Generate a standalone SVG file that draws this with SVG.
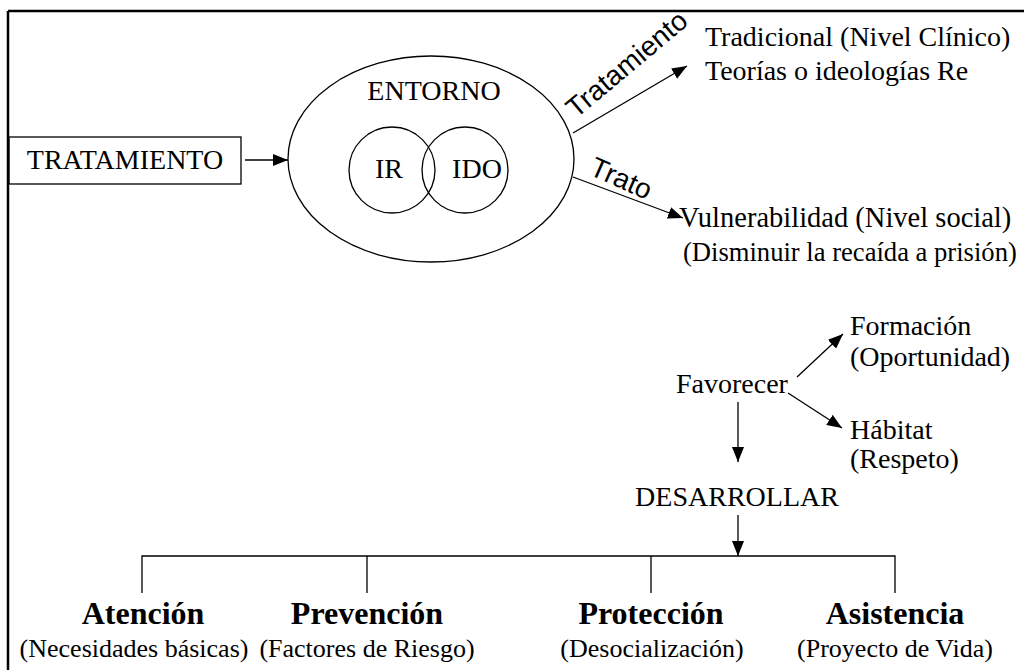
<svg xmlns="http://www.w3.org/2000/svg" width="1024" height="670" viewBox="0 0 1024 670">
<defs>
<marker id="ah" markerUnits="userSpaceOnUse" markerWidth="16" markerHeight="12" refX="15" refY="6" orient="auto">
<path d="M0,0 L15,6 L0,12 Z" fill="#000"/>
</marker>
<style>
.s{font-family:"Liberation Serif","Times New Roman",serif;font-size:28px;fill:#000}
.m{text-anchor:middle}
.b{font-family:"Liberation Serif","Times New Roman",serif;font-size:32px;font-weight:bold;text-anchor:middle;fill:#000}
.sub{font-family:"Liberation Serif","Times New Roman",serif;font-size:26px;text-anchor:middle;fill:#000}
.lab{font-family:"Liberation Sans",Arial,sans-serif;font-size:28px;fill:#000}
.ln{stroke:#000;stroke-width:1.3;fill:none}
.arr{stroke:#000;stroke-width:1.3;fill:none;marker-end:url(#ah)}
</style>
</defs>
<rect width="1024" height="670" fill="#fff"/>
<g id="frame">
<line x1="8" y1="11" x2="1024" y2="11" stroke="#000" stroke-width="2.5"/>
<line x1="8" y1="11" x2="8" y2="670" stroke="#000" stroke-width="2.5"/>
</g>
<g id="tratamiento">
<rect x="9" y="137" width="232" height="47" fill="none" stroke="#000" stroke-width="1.3"/>
<text class="s m" x="125" y="169">TRATAMIENTO</text>
</g>
<g id="entorno">
<ellipse cx="431" cy="159" rx="143" ry="103" class="ln"/>
<text class="s m" x="434" y="100">ENTORNO</text>
</g>
<g id="ir">
<circle cx="392" cy="170" r="43" class="ln"/>
<text class="s m" x="389" y="178">IR</text>
</g>
<g id="ido">
<circle cx="465" cy="170" r="43" class="ln"/>
<text class="s m" x="477" y="178">IDO</text>
</g>
<g id="tradicional">
<text class="s" x="705" y="46">Tradicional (Nivel Clínico)</text>
<text class="s" x="705" y="80">Teorías o ideologías Re</text>
</g>
<g id="vulnerabilidad">
<text class="s" x="679" y="227" style="font-size:28.5px">Vulnerabilidad (Nivel social)</text>
<text class="s" x="683" y="261" style="font-size:26.6px">(Disminuir la recaída a prisión)</text>
</g>
<g id="favorecer">
<text class="s" x="676" y="393">Favorecer</text>
</g>
<g id="formacion">
<text class="s" x="850" y="335">Formación</text>
<text class="s" x="850" y="366">(Oportunidad)</text>
</g>
<g id="habitat">
<text class="s" x="850" y="439">Hábitat</text>
<text class="s" x="850" y="468">(Respeto)</text>
</g>
<g id="desarrollar">
<text class="s m" x="737" y="506">DESARROLLAR</text>
</g>
<g id="atencion">
<text class="b" x="143" y="624">Atención</text>
<text class="sub" x="134" y="657">(Necesidades básicas)</text>
</g>
<g id="prevencion">
<text class="b" x="367" y="624">Prevención</text>
<text class="sub" x="367" y="657">(Factores de Riesgo)</text>
</g>
<g id="proteccion">
<text class="b" x="651" y="624">Protección</text>
<text class="sub" x="652" y="657">(Desocialización)</text>
</g>
<g id="asistencia">
<text class="b" x="895" y="624">Asistencia</text>
<text class="sub" x="895" y="657">(Proyecto de Vida)</text>
</g>
<g id="connectors">
<line x1="245" y1="160" x2="288" y2="160" class="arr"/>
<line x1="573" y1="133" x2="687" y2="66" class="arr"/>
<text class="lab" transform="translate(576,119) rotate(-40)">Tratamiento</text>
<line x1="573" y1="177" x2="683" y2="218" class="arr"/>
<text class="lab" transform="translate(588,174) rotate(24)">Trato</text>
<line x1="797" y1="377" x2="843" y2="334" class="arr"/>
<line x1="788" y1="393" x2="842" y2="428" class="arr"/>
<line x1="738" y1="402" x2="738" y2="462" class="arr"/>
<line x1="738" y1="515" x2="738" y2="556" class="arr"/>
<polyline points="142,593 142,556 895,556 895,593" class="ln"/>
<line x1="367" y1="556" x2="367" y2="593" class="ln"/>
<line x1="651" y1="556" x2="651" y2="593" class="ln"/>
</g>
</svg>
